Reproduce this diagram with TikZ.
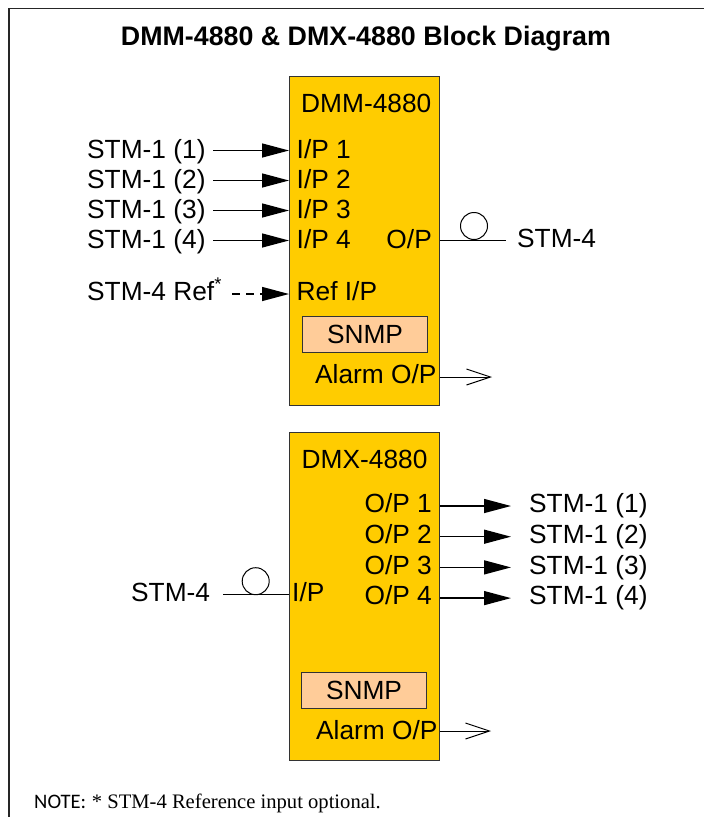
\documentclass[tikz,border=0pt]{standalone}
\usepackage{fontspec}
\setmainfont{Liberation Sans}
\newfontfamily\notesans{Carlito}
\newfontfamily\noteserif{Liberation Serif}
\usetikzlibrary{arrows.meta}
\definecolor{boxyellow}{HTML}{FFCC00}
\definecolor{snmppeach}{HTML}{FFCC99}
\begin{document}
\begin{tikzpicture}[x=1pt,y=-1pt,
  lbl/.style={font=\fontsize{26.3}{30}\selectfont, inner sep=0pt, anchor=base west},
  lblr/.style={font=\fontsize{26.3}{30}\selectfont, inner sep=0pt, anchor=base east},
  unitbox/.style={draw=black!80, line width=1pt, fill=boxyellow, inner sep=0pt, anchor=north west, minimum width=150pt, minimum height=#1},
  snmpbox/.style={draw=black!80, line width=1pt, fill=snmppeach, inner sep=0pt, anchor=north west, minimum width=125pt, minimum height=36pt, font=\fontsize{26.3}{30}\selectfont},
  arr/.style={line width=1.4pt, -{Triangle[length=27pt,width=14pt]}},
  dasharr/.style={line width=1.4pt, dash pattern=on 8pt off 6pt, -{Triangle[length=27pt,width=14pt]}},
  openarr/.style={line width=1pt, -{Straight Barb[length=24pt,width=16pt,line width=1pt]}},
  plainline/.style={line width=1pt},
  ring/.style={draw, line width=1pt, circle, minimum size=27pt, inner sep=0pt}
]
\useasboundingbox (0,0) rectangle (704,817);
% frame
\draw[line width=1.5pt, black!85] (9,817) -- (9,8.5) -- (704,8.5);
% title
\node[font=\bfseries\fontsize{26.8}{30}\selectfont, inner sep=0pt, anchor=base] (title) at (366,45) {DMM-4880 \& DMX-4880 Block Diagram};

% ===== DMM =====
\node[unitbox=329pt] (dmm) at (289,76) {};
\node[lbl] (dmmname) at (301,112) {DMM-4880};
\node[lbl] (i1) at (296.5,158) {I/P 1};
\node[lbl] (i2) at (296.5,188) {I/P 2};
\node[lbl] (i3) at (296.5,218) {I/P 3};
\node[lbl] (i4) at (296.5,248) {I/P 4};
\node[lblr] (op) at (432,248) {O/P};
\node[lbl] (refip) at (296.5,300) {Ref I/P};
\node[snmpbox] (snmp1) at (302,316) {SNMP};
\node[lbl] (al1) at (315,383) {Alarm O/P};

\node[lbl] (s1) at (87,158) {STM-1 (1)};
\node[lbl] (s2) at (87,188) {STM-1 (2)};
\node[lbl] (s3) at (87,218) {STM-1 (3)};
\node[lbl] (s4) at (87,248) {STM-1 (4)};
\node[lbl] (sref) at (87,300) {STM-4 Ref\textsuperscript{*}};

\coordinate (a1) at (213,150.5);
\coordinate (a2) at (213,180.5);
\coordinate (a3) at (213,210.5);
\coordinate (a4) at (213,240.5);
\draw[arr] (a1) -- (a1 -| dmm.west);
\draw[arr] (a2) -- (a2 -| dmm.west);
\draw[arr] (a3) -- (a3 -| dmm.west);
\draw[arr] (a4) -- (a4 -| dmm.west);
\coordinate (refstart) at (232,294);
\draw[dasharr] (refstart) -- (refstart -| dmm.west);

\node[ring] (c1) at (474,226) {};
\node[lbl] (stm4o) at (517,247) {STM-4};
\draw[plainline] (dmm.east |- c1.south) -- ([xshift=-11pt]stm4o.west |- c1.south);

\coordinate (al1end) at (492,377);
\draw[openarr] (dmm.east |- al1end) -- (al1end);

% ===== DMX =====
\node[unitbox=328pt] (dmx) at (289,432) {};
\node[lbl] (dmxname) at (301.5,468) {DMX-4880};
\node[lblr] (o1) at (432,512.7) {O/P 1};
\node[lblr] (o2) at (432,543.4) {O/P 2};
\node[lblr] (o3) at (432,574.1) {O/P 3};
\node[lblr] (o4) at (432,604.8) {O/P 4};
\node[lbl] (ip) at (292,601) {I/P};
\node[snmpbox] (snmp2) at (301,672) {SNMP};
\node[lbl] (al2) at (316,739.5) {Alarm O/P};

\node[lbl] (t1) at (529,512.7) {STM-1 (1)};
\node[lbl] (t2) at (529,543.4) {STM-1 (2)};
\node[lbl] (t3) at (529,574.1) {STM-1 (3)};
\node[lbl] (t4) at (529,604.8) {STM-1 (4)};

\draw[arr] ([yshift=6.7pt]o1.base -| dmx.east) -- ([xshift=-18pt,yshift=6.7pt]t1.base west);
\draw[arr] ([yshift=6.7pt]o2.base -| dmx.east) -- ([xshift=-18pt,yshift=6.7pt]t2.base west);
\draw[arr] ([yshift=6.7pt]o3.base -| dmx.east) -- ([xshift=-18pt,yshift=6.7pt]t3.base west);
\draw[arr] ([yshift=6.7pt]o4.base -| dmx.east) -- ([xshift=-18pt,yshift=6.7pt]t4.base west);

\node[lbl] (stm4i) at (131,601) {STM-4};
\node[ring] (c2) at (255.7,581.2) {};
\coordinate (ipstart) at (223,594.7);
\draw[plainline] (ipstart) -- (ipstart -| dmx.west);

\coordinate (al2end) at (491,731);
\draw[openarr] (dmx.east |- al2end) -- (al2end);

% note
\node[inner sep=0pt, anchor=base west, font=\fontsize{20.6}{24}\selectfont] (note) at (34,808) {{\notesans NOTE:} {\noteserif * STM-4 Reference input optional.}};
\end{tikzpicture}
\end{document}
